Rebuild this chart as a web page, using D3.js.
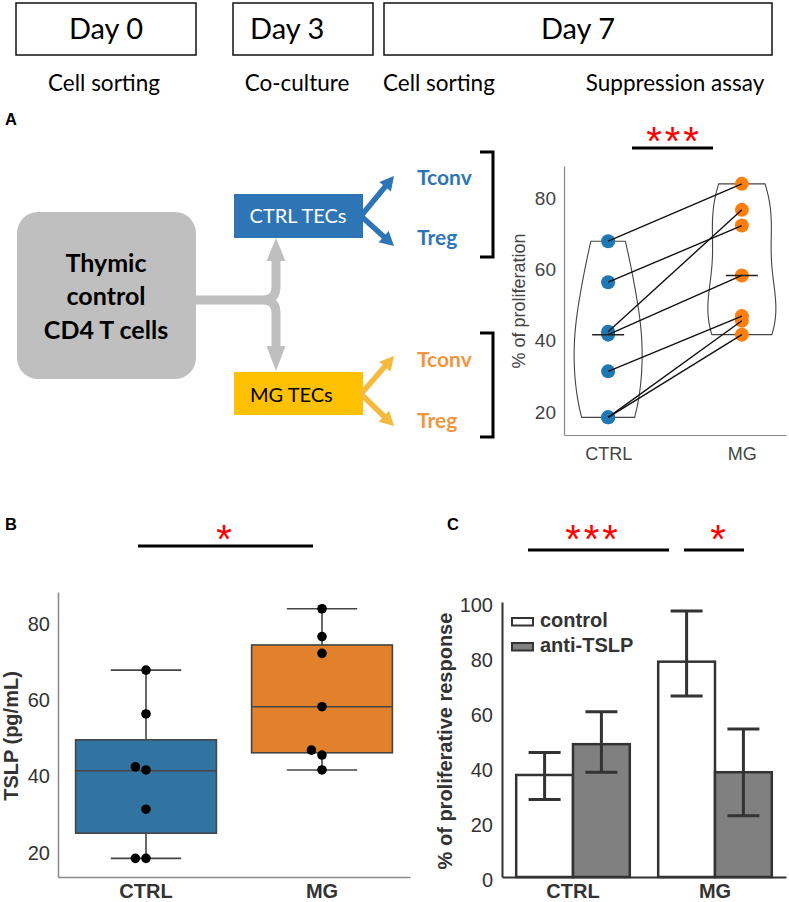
<!DOCTYPE html>
<html><head><meta charset="utf-8">
<script src="https://cdn.jsdelivr.net/npm/d3@7"></script>
<style>body{margin:0;background:#fff}svg{display:block}</style>
</head><body>
<svg id="c" width="789" height="902"></svg>
<script>
// ---------------- DATA ----------------
const dayLabels = ["Day 0", "Day 3", "Day 7"];
const stepLabels = ["Cell sorting", "Co-culture", "Cell sorting", "Suppression assay"];
const groups = ["CTRL", "MG"];
// paired values (index i of CTRL is paired with index i of MG)
const ctrlValues = [67.9, 56.4, 42.5, 41.7, 31.4, 18.5, 18.5];
const mgValues   = [84.0, 72.3, 76.7, 58.3, 46.9, 45.6, 41.7];
const ticksAB = [20, 40, 60, 80];
// panel B box statistics
const boxQ1 = [25.1, 46.2];
const boxMedian = [41.5, 58.3];
const boxQ3 = [49.6, 74.5];
const whiskerLow = [18.5, 41.7];
const whiskerHigh = [67.9, 84.0];
// panel C
const barSeries = ["control", "anti-TSLP"];
const controlMean = [37.1, 78.3];
const controlLow  = [28.2, 65.8];
const controlHigh = [45.3, 96.7];
const antiMean = [48.3, 38.1];
const antiLow  = [38.1, 22.3];
const antiHigh = [60.1, 53.8];
const ticksC = [0, 20, 40, 60, 80, 100];
const sigA = "***", sigB = "*", sigC = ["***", "*"];

// ---------------- DRAW ----------------
const svg = d3.select("#c");
const SANS = "'Liberation Sans', Arial, sans-serif";
const CAL = "Lato, 'Open Sans', sans-serif";

// Header timeline
const hdr = svg.append("g");
const boxes = [[16,196],[233,373],[384,772]];
const dayX = [106, 250, 578];
const dayAnchor = ["middle","start","middle"];
boxes.forEach((b,i)=>{
  hdr.append("rect").attr("x",b[0]).attr("y",3).attr("width",b[1]-b[0]).attr("height",52)
    .attr("fill","#fff").attr("stroke","#111").attr("stroke-width",1.5);
  hdr.append("text").attr("x",dayX[i]).attr("y",39).attr("text-anchor",dayAnchor[i])
    .attr("font-family",CAL).attr("font-size",29).attr("fill","#000").text(dayLabels[i]);
});
const stepX = [104, 297, 383, 675];
const stepAnchor = ["middle","middle","start","middle"];
stepLabels.forEach((s,i)=>{
  hdr.append("text").attr("x",stepX[i]).attr("y",91).attr("text-anchor",stepAnchor[i])
    .attr("font-family",CAL).attr("font-size",22.5).attr("fill","#000").text(s);
});

// Panel labels
[["A",5,125],["B",5,530],["C",447,530]].forEach(d=>{
  svg.append("text").attr("x",d[1]).attr("y",d[2]).attr("font-family",SANS)
    .attr("font-weight","bold").attr("font-size",16.5).text(d[0]);
});

// ---- Panel A diagram ----
const dg = svg.append("g");
dg.append("rect").attr("x",17).attr("y",212).attr("width",179).attr("height",167).attr("rx",21)
  .attr("fill","#bfbfbf");
[["Thymic",271.5],["control",305],["CD4 T cells",339]].forEach(t=>{
  dg.append("text").attr("x",106).attr("y",t[1]).attr("text-anchor","middle")
    .attr("font-family",CAL).attr("font-weight","bold").attr("font-size",25).attr("fill","#000").text(t[0]);
});
// connector
dg.append("path").attr("d","M196,300 H263 Q276,300 276,287 V258 M263,300 Q276,300 276,313 V348")
  .attr("fill","none").attr("stroke","#bfbfbf").attr("stroke-width",9);
dg.append("path").attr("d","M266.5,261 L285.5,261 L276,238 Z").attr("fill","#bfbfbf");
dg.append("path").attr("d","M266.5,346 L285.5,346 L276,371 Z").attr("fill","#bfbfbf");

function arrow(x1,y1,x2,y2,color,w,hl,hw){
  const dx=x2-x1, dy=y2-y1, L=Math.hypot(dx,dy), ux=dx/L, uy=dy/L;
  const bx=x2-ux*hl, by=y2-uy*hl;
  dg.append("line").attr("x1",x1).attr("y1",y1).attr("x2",bx+ux*1).attr("y2",by+uy*1)
    .attr("stroke",color).attr("stroke-width",w);
  dg.append("path").attr("d",`M${x2},${y2} L${bx-uy*hw},${by+ux*hw} L${bx+uy*hw},${by-ux*hw} Z`).attr("fill",color);
}
const BLUE="#2e75b6", GOLD="#ffc000";
dg.append("rect").attr("x",234).attr("y",194).attr("width",129).attr("height",44).attr("fill",BLUE);
dg.append("text").attr("x",298).attr("y",223).attr("text-anchor","middle").attr("font-family",CAL)
  .attr("font-size",20).attr("fill","#fff").text("CTRL TECs");
dg.append("rect").attr("x",234).attr("y",372).attr("width",129).attr("height",43).attr("fill",GOLD);
dg.append("text").attr("x",250).attr("y",401.5).attr("font-family",CAL)
  .attr("font-size",20).attr("fill","#000").text("MG TECs");
arrow(361,216,394,176,BLUE,5.5,14,7.5);
arrow(361,216,394,246,BLUE,5.5,14,7.5);
arrow(361,394,394,356,"#f5b93c",5.5,14,7.5);
arrow(361,394,394,426,"#f5b93c",5.5,14,7.5);
[["Tconv",185,"#2e75b6"],["Treg",245,"#2e75b6"],["Tconv",366.5,"#f0963f"],["Treg",428,"#f0963f"]].forEach(t=>{
  dg.append("text").attr("x",417).attr("y",t[1]).attr("font-family",CAL).attr("font-weight","bold")
    .attr("font-size",21).attr("fill",t[2]).text(t[0]);
});
dg.append("path").attr("d","M480,152 H493 V257 H480").attr("fill","none").attr("stroke","#000").attr("stroke-width",3);
dg.append("path").attr("d","M480,333 H493 V437 H480").attr("fill","none").attr("stroke","#000").attr("stroke-width",3);

// ---- Panel A violin ----
const gA = svg.append("g");
const yA = d3.scaleLinear().domain([13.55, 89]).range([435, 166]);
const xA = d3.scaleLinear().domain([-0.33, 1.33]).range([564, 786]);
const axA = gA.append("g").attr("transform","translate(564,0)")
  .call(d3.axisLeft(yA).tickValues(ticksAB).tickSize(0).tickPadding(8).tickSizeOuter(0));
axA.select(".domain").attr("stroke","#888").attr("stroke-width",1.2);
axA.selectAll("text").attr("font-family",SANS).attr("font-size",19).attr("fill","#444");
const axAx = gA.append("g").attr("transform","translate(0,435)")
  .call(d3.axisBottom(xA).tickValues([0,1]).tickFormat(i=>groups[i]).tickSize(0).tickPadding(12).tickSizeOuter(0));
axAx.select(".domain").attr("stroke","#888").attr("stroke-width",1.2);
axAx.selectAll("text").attr("font-family",SANS).attr("font-size",18).attr("fill","#444");
gA.append("text").attr("transform","translate(525,301) rotate(-90)").attr("text-anchor","middle")
  .attr("font-family",SANS).attr("font-size",18).attr("fill","#444").text("% of proliferation");

function kde(values){
  const n=values.length, sd=d3.deviation(values), h=sd*Math.pow(n,-1/5);
  const [lo,hi]=d3.extent(values);
  const pts=d3.range(0,121).map(i=>{const v=lo+(hi-lo)*i/120;
    return [v, d3.sum(values,x=>Math.exp(-0.5*((v-x)/h)**2))];});
  const m=d3.max(pts,p=>p[1]);
  return pts.map(p=>[p[0],p[1]/m]);
}
const violinHalf = 34;
[ctrlValues, mgValues].forEach((vals,gi)=>{
  const cx = xA(gi);
  const dens = kde(vals);
  gA.append("path").attr("d", d3.area().x0(d=>cx-violinHalf*d[1]).x1(d=>cx+violinHalf*d[1]).y(d=>yA(d[0]))(dens))
    .attr("fill","none").attr("stroke","#444").attr("stroke-width",1.1);
});
const ptColors = ["#1f77b4","#ff7f0e"];
[ctrlValues, mgValues].forEach((vals,gi)=>{
  gA.selectAll(null).data(vals).enter().append("circle")
    .attr("cx",xA(gi)).attr("cy",d=>yA(d)).attr("r",7).attr("fill",ptColors[gi]);
});
gA.selectAll(null).data(ctrlValues).enter().append("line")
  .attr("x1",xA(0)).attr("y1",d=>yA(d)).attr("x2",xA(1)).attr("y2",(d,i)=>yA(mgValues[i]))
  .attr("stroke","#111").attr("stroke-width",1.4);
[ctrlValues, mgValues].forEach((vals,gi)=>{
  const m=d3.median(vals);
  gA.append("line").attr("x1",xA(gi)-16).attr("x2",xA(gi)+16).attr("y1",yA(m)).attr("y2",yA(m))
    .attr("stroke","#222").attr("stroke-width",1.5);
});
gA.append("line").attr("x1",632).attr("x2",713).attr("y1",148).attr("y2",148).attr("stroke","#000").attr("stroke-width",3);
gA.append("text").attr("x",674).attr("y",155).attr("text-anchor","middle").attr("font-family",SANS)
  .attr("font-size",40).attr("letter-spacing",3).attr("fill","#ff0000").text(sigA);

// ---- Panel B ----
const gB = svg.append("g");
const yB = d3.scaleLinear().domain([13.6, 88.4]).range([877, 592]);
const xB = d3.scaleBand().domain(groups).range([58, 410]);
const axB = gB.append("g").attr("transform","translate(58,0)")
  .call(d3.axisLeft(yB).tickValues(ticksAB).tickSize(0).tickPadding(8).tickSizeOuter(0));
axB.select(".domain").attr("stroke","#888").attr("stroke-width",1.5);
axB.selectAll("text").attr("font-family",SANS).attr("font-size",20).attr("fill","#333");
const axBx = gB.append("g").attr("transform","translate(0,877)")
  .call(d3.axisBottom(xB).tickSize(0).tickPadding(7).tickSizeOuter(0));
axBx.select(".domain").attr("stroke","#888").attr("stroke-width",1.5);
axBx.selectAll("text").attr("font-family",SANS).attr("font-weight","bold").attr("font-size",20).attr("fill","#333");
gB.append("text").attr("transform","translate(18,736) rotate(-90)").attr("text-anchor","middle")
  .attr("font-family",SANS).attr("font-weight","bold").attr("font-size",20).attr("fill","#333").text("TSLP (pg/mL)");
const boxFill = ["#3274a1","#e1812c"];
const BS = "#444";
groups.forEach((g,gi)=>{
  const cx = xB(g)+xB.bandwidth()/2, bw = xB.bandwidth()*0.8;
  gB.append("line").attr("x1",cx).attr("x2",cx).attr("y1",yB(whiskerLow[gi])).attr("y2",yB(boxQ1[gi])).attr("stroke",BS).attr("stroke-width",1.6);
  gB.append("line").attr("x1",cx).attr("x2",cx).attr("y1",yB(whiskerHigh[gi])).attr("y2",yB(boxQ3[gi])).attr("stroke",BS).attr("stroke-width",1.6);
  [whiskerLow[gi], whiskerHigh[gi]].forEach(v=>{
    gB.append("line").attr("x1",cx-bw/4).attr("x2",cx+bw/4).attr("y1",yB(v)).attr("y2",yB(v)).attr("stroke",BS).attr("stroke-width",1.6);
  });
  gB.append("rect").attr("x",cx-bw/2).attr("width",bw).attr("y",yB(boxQ3[gi])).attr("height",yB(boxQ1[gi])-yB(boxQ3[gi]))
    .attr("fill",boxFill[gi]).attr("stroke",BS).attr("stroke-width",1.6);
  gB.append("line").attr("x1",cx-bw/2).attr("x2",cx+bw/2).attr("y1",yB(boxMedian[gi])).attr("y2",yB(boxMedian[gi])).attr("stroke",BS).attr("stroke-width",1.6);
});
function swarm(values, y, r){
  const placed=[];
  values.slice().sort((a,b)=>a-b).forEach(v=>{
    const py=y(v); const cands=[0];
    for(let j=1;j<8;j++) cands.push(-j*2*r, j*2*r);
    const off=cands.find(c=>placed.every(q=>Math.hypot(q.x-c,q.y-py)>=2*r-0.01));
    placed.push({x:off,y:py});
  });
  return placed;
}
[ctrlValues, mgValues].forEach((vals,gi)=>{
  const cx = xB(groups[gi])+xB.bandwidth()/2;
  gB.selectAll(null).data(swarm(vals,yB,5.3)).enter().append("circle")
    .attr("cx",d=>cx+d.x).attr("cy",d=>d.y).attr("r",4.8).attr("fill","#000");
});
gB.append("line").attr("x1",138).attr("x2",313).attr("y1",546).attr("y2",546).attr("stroke","#000").attr("stroke-width",3);
gB.append("text").attr("x",224).attr("y",553).attr("text-anchor","middle").attr("font-family",SANS)
  .attr("font-size",40).attr("fill","#ff0000").text(sigB);

// ---- Panel C ----
const gC = svg.append("g");
const yC = d3.scaleLinear().domain([0,100]).range([877, 602]);
const xC = d3.scaleBand().domain(groups).range([502, 786]).paddingInner(0.2).paddingOuter(0.1);
const xS = d3.scaleBand().domain(barSeries).range([0, xC.bandwidth()]);
const axC = gC.append("g").attr("transform","translate(502,0)")
  .call(d3.axisLeft(yC).tickValues(ticksC).tickSize(0).tickPadding(9).tickSizeOuter(0));
axC.select(".domain").attr("stroke","#333").attr("stroke-width",2);
axC.selectAll("text").attr("font-family",SANS).attr("font-size",20).attr("fill","#333").attr("dy","0.45em");
const axCx = gC.append("g").attr("transform","translate(0,877)")
  .call(d3.axisBottom(xC).tickSize(0).tickPadding(7).tickSizeOuter(0));
axCx.select(".domain").attr("stroke","#333").attr("stroke-width",2);
axCx.selectAll("text").attr("font-family",SANS).attr("font-weight","bold").attr("font-size",20).attr("fill","#333");
gC.append("text").attr("transform","translate(452,741) rotate(-90)").attr("text-anchor","middle")
  .attr("font-family",SANS).attr("font-weight","bold").attr("font-size",20).attr("fill","#333").text("% of proliferative response");
const seriesData = [
  {name:"control", mean:controlMean, lo:controlLow, hi:controlHigh, fill:"#ffffff"},
  {name:"anti-TSLP", mean:antiMean, lo:antiLow, hi:antiHigh, fill:"#808080"}
];
seriesData.forEach(s=>{
  groups.forEach((g,gi)=>{
    const x0 = xC(g)+xS(s.name), w = xS.bandwidth();
    gC.append("rect").attr("x",x0).attr("width",w).attr("y",yC(s.mean[gi])).attr("height",yC(0)-yC(s.mean[gi]))
      .attr("fill",s.fill).attr("stroke","#333").attr("stroke-width",2.5);
  });
});
seriesData.forEach(s=>{
  groups.forEach((g,gi)=>{
    const cx = xC(g)+xS(s.name)+xS.bandwidth()/2;
    gC.append("line").attr("x1",cx).attr("x2",cx).attr("y1",yC(s.lo[gi])).attr("y2",yC(s.hi[gi])).attr("stroke","#333").attr("stroke-width",3);
    [s.lo[gi], s.hi[gi]].forEach(v=>{
      gC.append("line").attr("x1",cx-16).attr("x2",cx+16).attr("y1",yC(v)).attr("y2",yC(v)).attr("stroke","#333").attr("stroke-width",3);
    });
  });
});
seriesData.forEach((s,i)=>{
  const yy = 618 + i*25;
  gC.append("rect").attr("x",512).attr("y",yy).attr("width",21).attr("height",7.5)
    .attr("fill",s.fill).attr("stroke","#333").attr("stroke-width",2);
  gC.append("text").attr("x",540).attr("y",yy+8.7).attr("font-family",SANS).attr("font-weight","bold")
    .attr("font-size",20).attr("fill","#333").text(s.name);
});
gC.append("line").attr("x1",528).attr("x2",669).attr("y1",550).attr("y2",550).attr("stroke","#000").attr("stroke-width",3);
gC.append("line").attr("x1",684).attr("x2",744).attr("y1",550).attr("y2",550).attr("stroke","#000").attr("stroke-width",3);
gC.append("text").attr("x",593).attr("y",553).attr("text-anchor","middle").attr("font-family",SANS)
  .attr("font-size",40).attr("letter-spacing",3).attr("fill","#ff0000").text(sigC[0]);
gC.append("text").attr("x",718).attr("y",553).attr("text-anchor","middle").attr("font-family",SANS)
  .attr("font-size",40).attr("fill","#ff0000").text(sigC[1]);
</script>
</body></html>
